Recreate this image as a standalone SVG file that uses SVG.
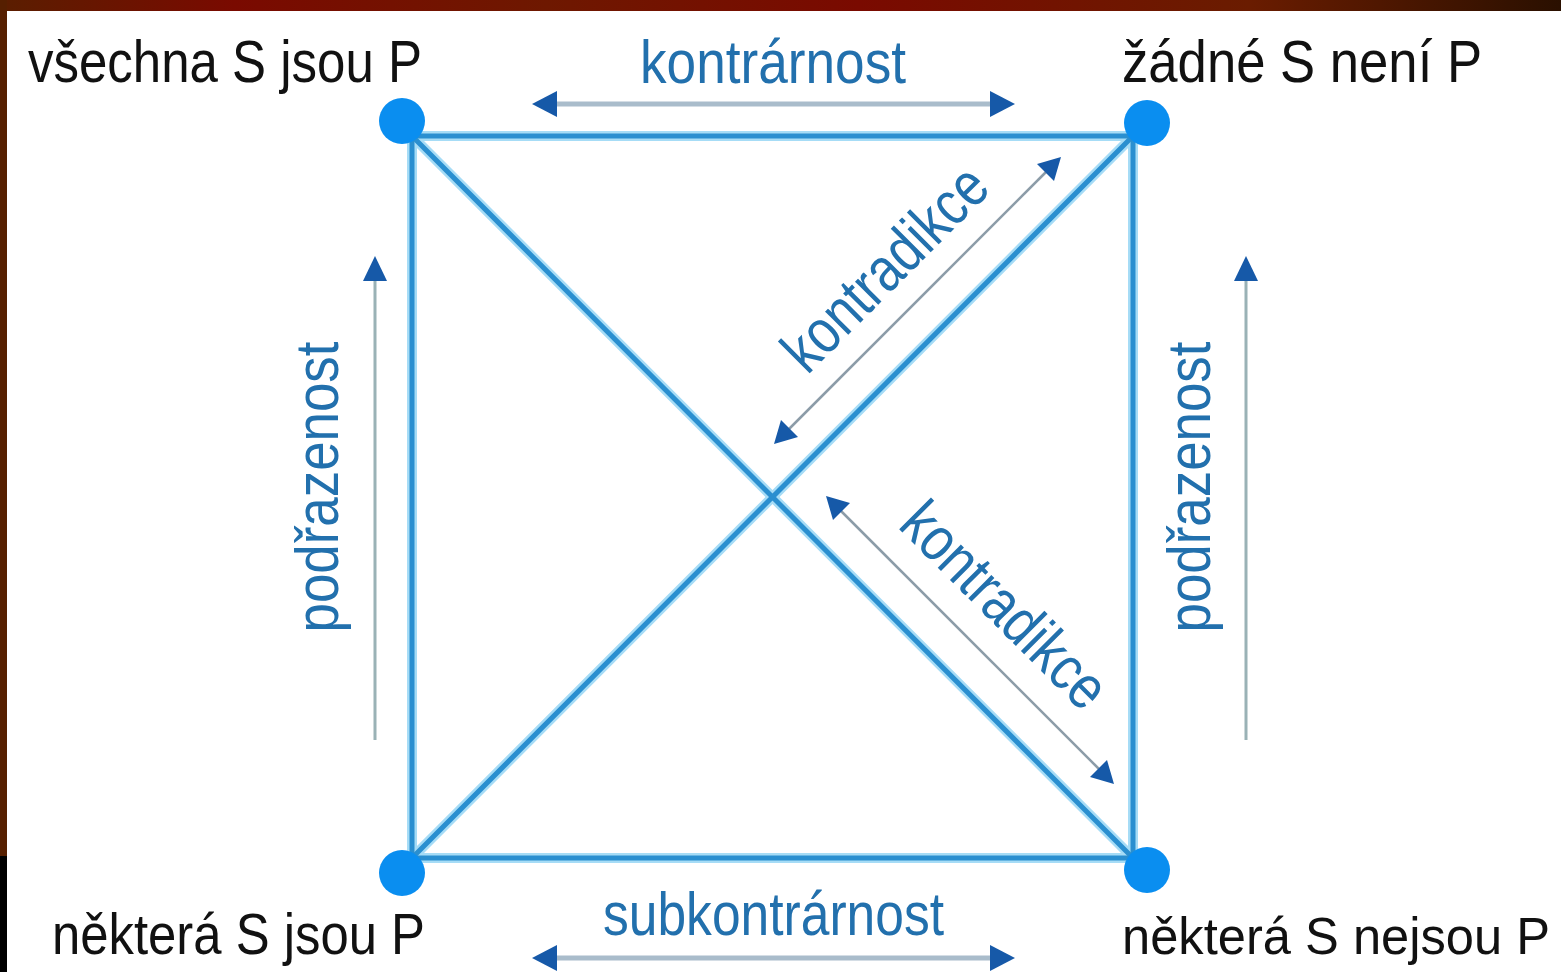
<svg xmlns="http://www.w3.org/2000/svg" width="1561" height="972" viewBox="0 0 1561 972">
<defs>
<linearGradient id="topband" x1="0" y1="0" x2="1" y2="0">
<stop offset="0" stop-color="#5a1e00"/>
<stop offset="0.15" stop-color="#7a0a00"/>
<stop offset="0.35" stop-color="#6e1800"/>
<stop offset="0.55" stop-color="#7a0a00"/>
<stop offset="0.8" stop-color="#6a1c00"/>
<stop offset="1" stop-color="#2a1000"/>
</linearGradient>
</defs>
<style>
.halo{stroke:#a6dcf6;stroke-width:10;fill:none;stroke-linecap:round}
.edge{stroke:#2a8fd0;stroke-width:5;fill:none;stroke-linecap:round}
.node{fill:#0a8ef0}
.lbl{font-family:"Liberation Sans",Arial,sans-serif;font-size:60px;fill:#111}
.lblb{font-family:"Liberation Sans",Arial,sans-serif;font-size:57px;fill:#111}
.rel{font-family:"Liberation Sans",Arial,sans-serif;font-size:62px;fill:#2270ad}
.arr{stroke:#a9bccb;stroke-width:5;fill:none}
.arrD{stroke:#8c9ca8;stroke-width:2.5;fill:none}
.arrV{stroke:#9ab2b6;stroke-width:3;fill:none}
.head{fill:#1659a8}
</style>
<rect x="0" y="0" width="1561" height="972" fill="#ffffff"/>
<rect x="0" y="0" width="1561" height="11" fill="url(#topband)"/>
<rect x="0" y="0" width="7" height="858" fill="#561f00"/>
<rect x="0" y="856" width="7" height="116" fill="#000000"/>

<g id="connectors">
<g class="halos">
<line class="halo" x1="412" y1="136" x2="1133" y2="136"/>
<line class="halo" x1="412" y1="858" x2="1133" y2="858"/>
<line class="halo" x1="412" y1="136" x2="412" y2="858"/>
<line class="halo" x1="1133" y1="136" x2="1133" y2="858"/>
<line class="halo" x1="412" y1="136" x2="1133" y2="858"/>
<line class="halo" x1="412" y1="858" x2="1133" y2="136"/>
</g>
<line class="edge" x1="412" y1="136" x2="1133" y2="136"/>
<line class="edge" x1="412" y1="858" x2="1133" y2="858"/>
<line class="edge" x1="412" y1="136" x2="412" y2="858"/>
<line class="edge" x1="1133" y1="136" x2="1133" y2="858"/>
<line class="edge" x1="412" y1="136" x2="1133" y2="858"/>
<line class="edge" x1="412" y1="858" x2="1133" y2="136"/>

<g id="arrow-kontrarnost">
<line class="arr" x1="555" y1="104" x2="992" y2="104"/>
<path class="head" d="M532,104 L557,91 L557,117 z"/>
<path class="head" d="M1015,104 L990,91 L990,117 z"/>
</g>
<g id="arrow-subkontrarnost">
<line class="arr" x1="555" y1="958" x2="992" y2="958"/>
<path class="head" d="M532,958 L557,945 L557,971 z"/>
<path class="head" d="M1015,958 L990,945 L990,971 z"/>
</g>
<g id="arrow-kontradikce-1">
<line class="arrD" x1="1048" y1="170" x2="787" y2="431"/>
<path class="head" d="M1061,157 L1054,181 L1037,164 z"/>
<path class="head" d="M774,444 L781,420 L798,437 z"/>
</g>
<g id="arrow-kontradikce-2">
<line class="arrD" x1="839" y1="509" x2="1101" y2="771"/>
<path class="head" d="M826,496 L850,503 L833,520 z"/>
<path class="head" d="M1114,784 L1090,777 L1107,760 z"/>
</g>
<g id="arrow-podrazenost-left">
<line class="arrV" x1="375" y1="740" x2="375" y2="275"/>
<path class="head" d="M375,256 L363,281 L387,281 z"/>
</g>
<g id="arrow-podrazenost-right">
<line class="arrV" x1="1246" y1="740" x2="1246" y2="275"/>
<path class="head" d="M1246,256 L1234,281 L1258,281 z"/>
</g>
</g>

<g id="node-A">
<circle class="node" cx="402" cy="121" r="23"/>
<text class="lbl" x="28" y="82" textLength="394" lengthAdjust="spacingAndGlyphs">všechna S jsou P</text>
</g>
<g id="node-E">
<circle class="node" cx="1147" cy="123" r="23"/>
<text class="lbl" x="1122" y="82" textLength="360" lengthAdjust="spacingAndGlyphs">žádné S není P</text>
</g>
<g id="node-I">
<circle class="node" cx="402" cy="873" r="23"/>
<text class="lblb" x="52" y="954" textLength="373" lengthAdjust="spacingAndGlyphs">některá S jsou P</text>
</g>
<g id="node-O">
<circle class="node" cx="1147" cy="870" r="23"/>
<text class="lblb" x="1122" y="954" font-size="52" style="font-size:52px" textLength="428" lengthAdjust="spacingAndGlyphs">některá S nejsou P</text>
</g>

<g id="labels">
<text class="rel" x="640" y="83" textLength="266" lengthAdjust="spacingAndGlyphs">kontrárnost</text>
<text class="rel" x="603" y="935" textLength="341" lengthAdjust="spacingAndGlyphs">subkontrárnost</text>
<text class="rel" text-anchor="middle" transform="translate(900,283) rotate(-45)" textLength="262" lengthAdjust="spacingAndGlyphs">kontradikce</text>
<text class="rel" text-anchor="middle" transform="translate(990,620) rotate(45)" textLength="264" lengthAdjust="spacingAndGlyphs">kontradikce</text>
<text class="rel" text-anchor="middle" transform="translate(338,487) rotate(-90)" textLength="291" lengthAdjust="spacingAndGlyphs">podřazenost</text>
<text class="rel" text-anchor="middle" transform="translate(1210,487) rotate(-90)" textLength="291" lengthAdjust="spacingAndGlyphs">podřazenost</text>
</g>
</svg>
